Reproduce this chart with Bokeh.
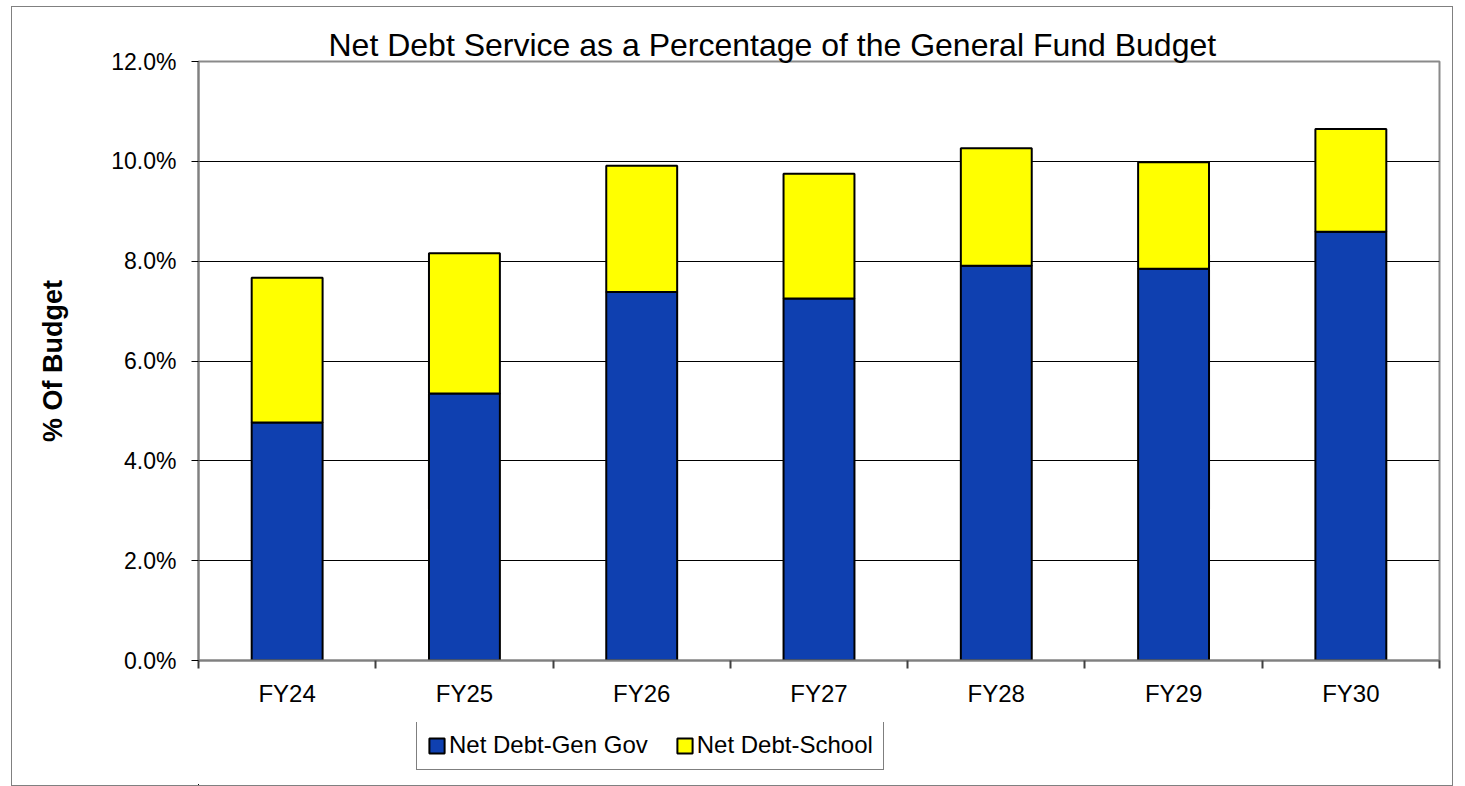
from bokeh.plotting import figure
from bokeh.models import (ColumnDataSource, Range1d, FixedTicker, PrintfTickFormatter,
                          Legend, Title)
from bokeh.layouts import column
from bokeh.embed import file_html
from bokeh.resources import INLINE

categories = ["FY24", "FY25", "FY26", "FY27", "FY28", "FY29", "FY30"]
gen_gov = [4.77, 5.35, 7.38, 7.25, 7.91, 7.85, 8.59]
school = [2.90, 2.81, 2.53, 2.50, 2.35, 2.13, 2.06]
series_names = ["Net Debt-Gen Gov", "Net Debt-School"]
series_colors = ["#0F40B0", "#FFFF00"]
y_ticks = [0, 2, 4, 6, 8, 10, 12]

FONT = "Liberation Sans"

centers = [i + 0.5 for i in range(len(categories))]
bounds = list(range(len(categories) + 1))

source = ColumnDataSource(dict(x=centers, cat=categories, gen=gen_gov, school=school))

# ---- main chart ----
p = figure(width=1440, height=715, output_backend="svg", toolbar_location=None,
           x_range=Range1d(0, len(categories)), y_range=Range1d(0, 12),
           min_border_left=186, min_border_right=13, min_border_top=54,
           min_border_bottom=62)

p.title = Title(text="Net Debt Service as a Percentage of the General Fund Budget",
                align="left", offset=130, text_font=FONT, text_font_size="32px",
                text_font_style="normal", text_color="black", standoff=-2)

p.vbar_stack(["gen", "school"], x="x", width=0.4, source=source,
             fill_color=series_colors, line_color="black", line_width=2)

p.background_fill_color = "white"
p.border_fill_color = "white"
p.outline_line_color = "#8a8a8a"
p.outline_line_width = 2

yax = p.yaxis[0]
yax.ticker = FixedTicker(ticks=y_ticks)
yax.formatter = PrintfTickFormatter(format="%.1f%%")
yax.axis_line_color = "#808080"
yax.axis_line_width = 2
yax.major_tick_out = 7
yax.major_tick_in = 0
yax.major_tick_line_color = "black"
yax.minor_tick_line_color = None
yax.major_label_standoff = 15
yax.major_label_text_font = FONT
yax.major_label_text_font_size = "23px"
yax.major_label_text_color = "black"
yax.axis_label = "% Of Budget"
yax.axis_label_text_font = FONT
yax.axis_label_text_font_size = "27px"
yax.axis_label_text_font_style = "bold"
yax.axis_label_text_color = "black"
yax.axis_label_standoff = 40

xax = p.xaxis[0]
xax.ticker = FixedTicker(ticks=centers, minor_ticks=bounds)
xax.major_label_overrides = {c: lab for c, lab in zip(centers, categories)}
xax.axis_line_color = "#808080"
xax.axis_line_width = 2
xax.major_tick_out = 0
xax.major_tick_in = 0
xax.minor_tick_out = 8
xax.minor_tick_in = 0
xax.minor_tick_line_color = "#404040"
xax.minor_tick_line_width = 2
xax.major_label_standoff = 11
xax.major_label_text_font = FONT
xax.major_label_text_font_size = "24px"
xax.major_label_text_color = "black"

p.xgrid.grid_line_color = None
p.ygrid.ticker = FixedTicker(ticks=y_ticks)
p.ygrid.grid_line_color = "black"
p.ygrid.grid_line_width = 1

# ---- legend strip (its bars lie far outside its ranges; only the legend shows) ----
p_leg = figure(width=1440, height=63, output_backend="svg", toolbar_location=None,
               x_range=Range1d(1000, 1007), y_range=Range1d(1000, 1001),
               x_axis_location=None, y_axis_location=None,
               min_border=0, min_border_left=0, min_border_right=0,
               min_border_top=0, min_border_bottom=0)
p_leg.outline_line_color = None
p_leg.xgrid.visible = False
p_leg.ygrid.visible = False
p_leg.background_fill_color = "white"
p_leg.border_fill_color = "white"
leg_renderers = p_leg.vbar_stack(["gen", "school"], x="x", width=0.4, source=source,
                                 fill_color=series_colors, line_color="black",
                                 line_width=2)

legend = Legend(items=[(name, [r]) for name, r in zip(series_names, leg_renderers)],
                orientation="horizontal", location=(218, 15),
                border_line_color="black", border_line_width=1,
                background_fill_color="white", background_fill_alpha=1,
                glyph_width=19, glyph_height=19, label_standoff=3, spacing=27,
                padding=10, margin=0,
                label_text_font=FONT, label_text_font_size="24px",
                label_text_color="black")
p_leg.add_layout(legend, "center")

layout = column(p, p_leg, spacing=0)
layout.margin = (6, 0, 0, 11)
layout.styles = {"border": "1px solid #808080"}

open("out.html", "w").write(file_html(layout, INLINE))
